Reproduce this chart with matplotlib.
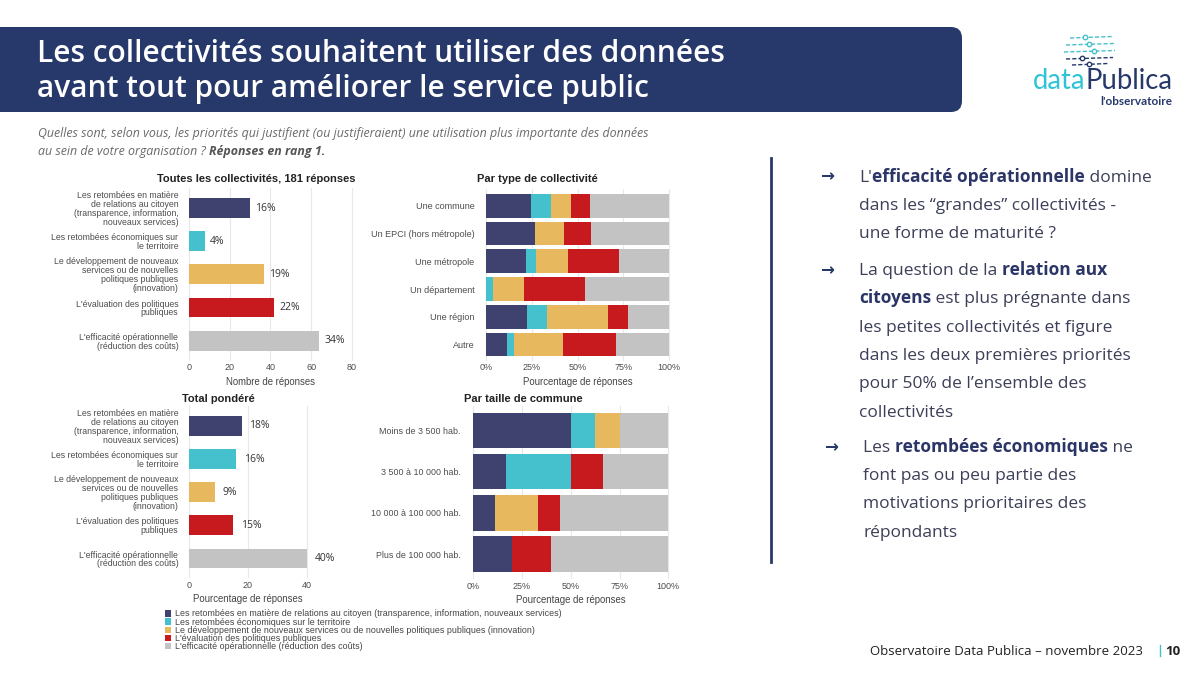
import matplotlib
matplotlib.use("Agg")
import matplotlib.pyplot as plt
from matplotlib.patches import FancyBboxPatch, Patch
from matplotlib.lines import Line2D
import numpy as np

# ---------------- DATA ----------------
priorities = [
    "Les retombées en matière\nde relations au citoyen\n(transparence, information,\nnouveaux services)",
    "Les retombées économiques sur\nle territoire",
    "Le développement de nouveaux\nservices ou de nouvelles\npolitiques publiques\n(innovation)",
    "L'évaluation des politiques\npubliques",
    "L'efficacité opérationnelle\n(réduction des coûts)",
]
legend_labels = [
    "Les retombées en matière de relations au citoyen (transparence, information, nouveaux services)",
    "Les retombées économiques sur le territoire",
    "Le développement de nouveaux services ou de nouvelles politiques publiques (innovation)",
    "L'évaluation des politiques publiques",
    "L'efficacité opérationnelle (réduction des coûts)",
]
counts_all = [30, 8, 37, 42, 64]
counts_all_labels = ["16%", "4%", "19%", "22%", "34%"]
weighted_pct = [18, 16, 9, 15, 40]
weighted_labels = ["18%", "16%", "9%", "15%", "40%"]

type_labels = ["Une commune", "Un EPCI (hors métropole)", "Une métropole",
               "Un département", "Une région", "Autre"]
type_citoyen = [24.4, 26.9, 21.6, 0.0, 22.2, 11.5]
type_eco = [11.1, 0.0, 5.7, 3.8, 11.1, 3.8]
type_innov = [10.7, 15.6, 17.2, 17.0, 33.3, 26.9]
type_eval = [10.5, 15.0, 27.9, 33.3, 11.1, 28.9]
type_effic = [43.3, 42.5, 27.6, 45.9, 22.3, 28.9]

size_labels = ["Moins de 3 500 hab.", "3 500 à 10 000 hab.",
               "10 000 à 100 000 hab.", "Plus de 100 000 hab."]
size_citoyen = [50.0, 16.7, 11.1, 20.0]
size_eco = [12.5, 33.3, 0.0, 0.0]
size_innov = [12.5, 0.0, 22.2, 0.0]
size_eval = [0.0, 16.7, 11.1, 20.0]
size_effic = [25.0, 33.3, 55.6, 60.0]

x_ticks_counts = [0, 20, 40, 60, 80]
x_ticks_weighted = [0, 20, 40]
pct_ticks = [0, 25, 50, 75, 100]
pct_ticklabels = ["0%", "25%", "50%", "75%", "100%"]

# ---------------- STYLE ----------------
colors = ["#3f416f", "#45c0cd", "#e7b85e", "#c61a1f", "#c3c3c3"]
NAVY = "#27396b"
BODY = "#3c3f58"
CHART_FONT = "Liberation Sans"
GRID = "#e8e8e8"

W, H = 1200, 675
fig = plt.figure(figsize=(12, 6.75), dpi=100)
fig.patch.set_facecolor("white")

bg = fig.add_axes([0, 0, 1, 1], zorder=0)
bg.set_xlim(0, W)
bg.set_ylim(H, 0)
bg.axis("off")


def add_ax(l, t, r, b):
    ax = fig.add_axes([l / W, 1 - b / H, (r - l) / W, (b - t) / H], zorder=2)
    ax.set_facecolor("none")
    for s in ax.spines.values():
        s.set_visible(False)
    ax.grid(axis="x", color=GRID, lw=0.8)
    ax.set_axisbelow(True)
    ax.tick_params(length=0)
    return ax


def finish_labels(ax, ysize=6.3):
    for lab in ax.get_xticklabels():
        lab.set_fontfamily(CHART_FONT)
        lab.set_fontsize(6.5)
        lab.set_color("#4d4d4d")
    for lab in ax.get_yticklabels():
        lab.set_fontfamily(CHART_FONT)
        lab.set_fontsize(ysize)
        lab.set_color("#4d4d4d")
        lab.set_linespacing(0.98)


def chart_title(ax, text, xpx, ypx, l, t, r, b):
    ax.set_title(text, loc="left", x=(xpx - l) / (r - l), y=1 + (t - ypx) / (b - t),
                 pad=0, va="center", fontsize=8.0, fontweight="bold",
                 fontfamily=CHART_FONT, color="#222222")


XLAB = dict(fontsize=6.9, fontfamily=CHART_FONT, color="#444444")

# ---------------- BANNER / HEADER ----------------
banner = FancyBboxPatch((-30, 27), 992, 85, boxstyle="round,pad=0,rounding_size=11",
                        fc=NAVY, ec="none")
bg.add_patch(banner)
bg.text(37, 61.5, "Les collectivités souhaitent utiliser des données", color="white",
        fontsize=21.5, fontfamily="Open Sans", fontweight="semibold", va="baseline", ha="left")
bg.text(37, 96.5, "avant tout pour améliorer le service public", color="white",
        fontsize=21.5, fontfamily="Open Sans", fontweight="semibold", va="baseline", ha="left")

# logo
icon_rows = [(1070, 1112, 38, "#45c0cd"), (1066, 1114, 45, "#45c0cd"),
             (1064, 1115, 52, "#45c0cd"), (1066, 1113, 59, NAVY), (1072, 1108, 65, NAVY)]
for i, (x0, x1, yy, c) in enumerate(icon_rows):
    bg.add_line(Line2D([x0, x1], [yy, yy - 1.5], color=c, lw=1.0, ls=(0, (3, 1.5))))
    cx = x0 + (x1 - x0) * (0.35 + 0.12 * (i % 3))
    bg.plot([cx], [yy - 0.8], marker="o", ms=3.2, mfc="white", mec=c, mew=1.0)
t_data = bg.text(1033, 89, "data", color="#2ec4d6", fontsize=19.8, fontfamily="Lato",
                 va="baseline", ha="left")
bg.annotate("Publica", xy=(1, 0), xycoords=t_data, color=NAVY, fontsize=19.8,
            fontfamily="Lato", va="bottom", ha="left")
bg.text(1172, 105, "l'observatoire", color=NAVY, fontsize=8.5, fontfamily="Lato",
        fontweight="bold", va="baseline", ha="right")

# question
bg.text(38, 133, "Quelles sont, selon vous, les priorités qui justifient (ou justifieraient) "
        "une utilisation plus importante des données", color="#6a6a6a", fontsize=8.9,
        fontfamily="Open Sans", style="italic", va="center", ha="left")
q2 = bg.text(38, 151, "au sein de votre organisation ? ", color="#6a6a6a", fontsize=8.9,
             fontfamily="Open Sans", style="italic", va="center", ha="left")
bg.annotate("Réponses en rang 1.", xy=(1, 0), xycoords=q2, color="#555555", fontsize=8.9,
            fontfamily="Open Sans", style="italic", fontweight="bold", va="bottom", ha="left")

# ---------------- PANEL 1 : counts ----------------
L1, T1, R1, B1 = 180.5, 188.1, 360.2, 360.6
ax1 = add_ax(L1, T1, R1, B1)
y5 = np.arange(len(priorities))
bars = ax1.barh(y5, counts_all, height=0.6, color=colors)
ax1.bar_label(bars, labels=counts_all_labels, padding=3.6, fontsize=7.5,
              fontfamily="Open Sans", color="#333333")
ax1.set_xlim(-4, 84)
ax1.set_ylim(4.6, -0.6)
ax1.set_xticks(x_ticks_counts)
ax1.set_yticks(y5)
ax1.set_yticklabels(priorities)
ax1.tick_params(axis="y", pad=1.6)
ax1.tick_params(axis="x", pad=2.0)
ax1.set_xlabel("Nombre de réponses", labelpad=3.3, **XLAB)
finish_labels(ax1)
chart_title(ax1, "Toutes les collectivités, 181 réponses", 157, 179.5, L1, T1, R1, B1)

# ---------------- PANEL 2 : weighted ----------------
L2, T2, R2, B2 = 182.8, 406.1, 312.6, 578.4
ax2 = add_ax(L2, T2, R2, B2)
bars2 = ax2.barh(y5, weighted_pct, height=0.6, color=colors)
ax2.bar_label(bars2, labels=weighted_labels, padding=5.5, fontsize=7.5,
              fontfamily="Open Sans", color="#333333")
ax2.set_xlim(-2, 42)
ax2.set_ylim(4.6, -0.6)
ax2.set_xticks(x_ticks_weighted)
ax2.set_yticks(y5)
ax2.set_yticklabels(priorities)
ax2.tick_params(axis="y", pad=3.2)
ax2.tick_params(axis="x", pad=1.9)
ax2.set_xlabel("Pourcentage de réponses", labelpad=2.7, **XLAB)
finish_labels(ax2)
chart_title(ax2, "Total pondéré", 182, 398.5, L2, T2, R2, B2)

# ---------------- PANEL 3 : by type ----------------
L3, T3, R3, B3 = 476.8, 189.2, 678.5, 361.1
ax3 = add_ax(L3, T3, R3, B3)
y6 = np.arange(len(type_labels))
left = np.zeros(len(type_labels))
for vals, c in zip([type_citoyen, type_eco, type_innov, type_eval, type_effic], colors):
    ax3.barh(y6, vals, left=left, height=0.86, color=c)
    left = left + np.array(vals)
ax3.set_xlim(-5, 105)
ax3.set_ylim(5.6, -0.6)
ax3.set_xticks(pct_ticks)
ax3.set_xticklabels(pct_ticklabels)
ax3.set_yticks(y6)
ax3.set_yticklabels(type_labels)
ax3.tick_params(axis="y", pad=1.8)
ax3.tick_params(axis="x", pad=1.2)
ax3.set_xlabel("Pourcentage de réponses", labelpad=3.7, **XLAB)
finish_labels(ax3, ysize=6.5)
chart_title(ax3, "Par type de collectivité", 477, 179.5, L3, T3, R3, B3)

# ---------------- PANEL 4 : by size ----------------
L4, T4, R4, B4 = 463.6, 405.8, 678.0, 578.9
ax4 = add_ax(L4, T4, R4, B4)
y4 = np.arange(len(size_labels))
left = np.zeros(len(size_labels))
for vals, c in zip([size_citoyen, size_eco, size_innov, size_eval, size_effic], colors):
    ax4.barh(y4, vals, left=left, height=0.86, color=c)
    left = left + np.array(vals)
ax4.set_xlim(-5, 105)
ax4.set_ylim(3.6, -0.6)
ax4.set_xticks(pct_ticks)
ax4.set_xticklabels(pct_ticklabels)
ax4.set_yticks(y4)
ax4.set_yticklabels(size_labels)
ax4.tick_params(axis="y", pad=2.1)
ax4.tick_params(axis="x", pad=2.1)
ax4.set_xlabel("Pourcentage de réponses", labelpad=2.8, **XLAB)
finish_labels(ax4, ysize=6.4)
chart_title(ax4, "Par taille de commune", 464, 398.5, L4, T4, R4, B4)

# ---------------- LEGEND ----------------
handles = [Patch(facecolor=c, edgecolor="none") for c in colors]
fig.legend(handles, legend_labels, loc="upper left",
           bbox_to_anchor=(165 / W, 1 - 609.5 / H), frameon=False,
           prop={"family": CHART_FONT, "size": 6.4}, labelcolor="#444444",
           handlelength=0.7, handleheight=0.7, handletextpad=0.45,
           labelspacing=-0.09, borderpad=0, borderaxespad=0)

# ---------------- RIGHT COMMENTARY ----------------
bg.add_line(Line2D([770.7, 770.7], [158, 562], color=NAVY, lw=2.0))

FS = 12.5


def rich_line(x, y, runs):
    prev = None
    for txt, bold in runs:
        kw = dict(fontsize=FS, fontfamily="Open Sans",
                  fontweight="bold" if bold else "normal",
                  color="#2b3566" if bold else BODY, ha="left")
        if prev is None:
            prev = bg.text(x, y, txt, va="baseline", **kw)
        else:
            prev = bg.annotate(txt, xy=(1, 0), xycoords=prev, va="bottom", **kw)


def arrow(x, y):
    bg.text(x, y, "→", fontsize=12, fontfamily="DejaVu Sans", fontweight="bold",
            color=NAVY, va="baseline", ha="left")


arrow(820, 181.5)
rich_line(859.3, 181.7, [("L'", False), ("efficacité opérationnelle", True), (" domine", False)])
rich_line(859.3, 210.0, [("dans les “grandes” collectivités -", False)])
rich_line(859.3, 238.3, [("une forme de maturité ?", False)])

arrow(820, 275)
rich_line(859.3, 275.0, [("La question de la ", False), ("relation aux", True)])
rich_line(859.3, 303.3, [("citoyens", True), (" est plus prégnante dans", False)])
rich_line(859.3, 331.7, [("les petites collectivités et figure", False)])
rich_line(859.3, 360.0, [("dans les deux premières priorités", False)])
rich_line(859.3, 388.3, [("pour 50% de l’ensemble des", False)])
rich_line(859.3, 416.7, [("collectivités", False)])

arrow(824, 451.7)
rich_line(863.3, 451.7, [("Les ", False), ("retombées économiques", True), (" ne", False)])
rich_line(863.3, 480.0, [("font pas ou peu partie des", False)])
rich_line(863.3, 508.3, [("motivations prioritaires des", False)])
rich_line(863.3, 536.7, [("répondants", False)])

# ---------------- FOOTER ----------------
bg.text(870, 655, "Observatoire Data Publica – novembre 2023", fontsize=9.5,
        fontfamily="Open Sans", color="#222222", va="baseline", ha="left")
bg.add_line(Line2D([1160, 1160], [645, 656], color="#45c0cd", lw=1.0))
bg.text(1165, 655, "10", fontsize=9.5, fontfamily="Open Sans", fontweight="bold",
        color="#222222", va="baseline", ha="left")

fig.savefig("out.png", dpi=100, facecolor="white")
